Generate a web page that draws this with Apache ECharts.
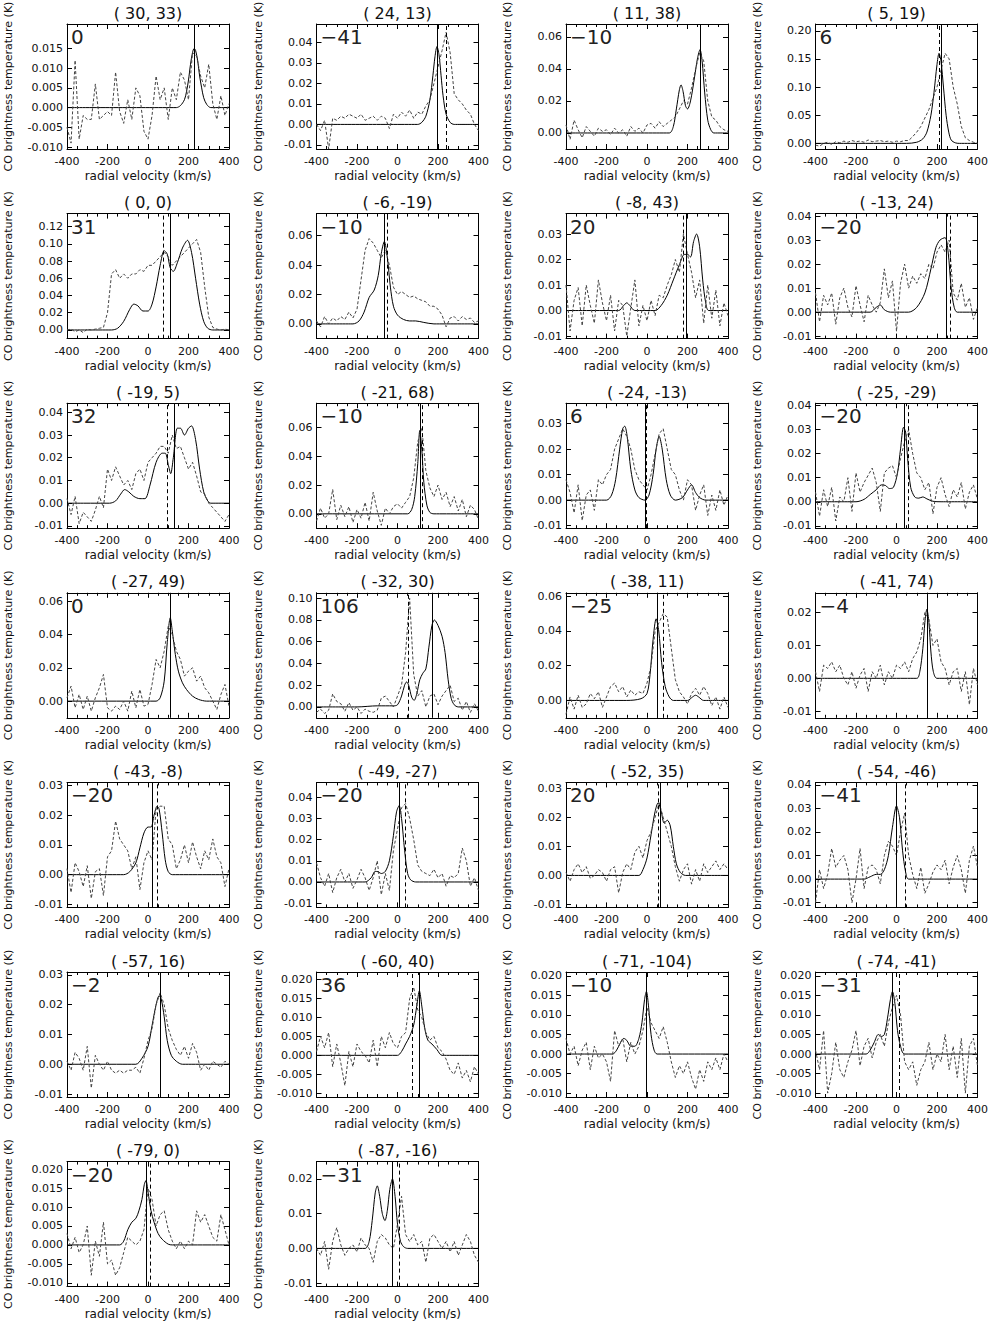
<!DOCTYPE html>
<html><head><meta charset="utf-8">
<script src="https://cdn.jsdelivr.net/npm/echarts@6/dist/echarts.min.js"></script>
<style>html,body{margin:0;padding:0;background:#fff}#c{width:998px;height:1325px}</style>
</head><body><div id="c"></div>
<script>
const titles = ['( 30, 33)','( 24, 13)','( 11, 38)','( 5, 19)','( 0, 0)','( -6, -19)','( -8, 43)','( -13, 24)','( -19, 5)','( -21, 68)','( -24, -13)','( -25, -29)','( -27, 49)','( -32, 30)','( -38, 11)','( -41, 74)','( -43, -8)','( -49, -27)','( -52, 35)','( -54, -46)','( -57, 16)','( -60, 40)','( -71, -104)','( -74, -41)','( -79, 0)','( -87, -16)'];
const numLabels = ['0','\u221241','\u221210','6','31','\u221210','20','\u221220','32','\u221210','6','\u221220','0','106','\u221225','\u22124','\u221220','\u221220','20','\u221241','\u22122','36','\u221210','\u221231','\u221220','\u221231'];
const yMin = [-0.0105,-0.012,-0.01,-0.01,-0.01,-0.01,-0.011,-0.011,-0.011,-0.01,-0.011,-0.011,-0.01,-0.01,-0.01,-0.012,-0.011,-0.012,-0.011,-0.012,-0.011,-0.011,-0.011,-0.011,-0.011,-0.011];
const yMax = [0.0212,0.049,0.068,0.212,0.135,0.075,0.038,0.041,0.044,0.077,0.038,0.041,0.065,0.105,0.062,0.026,0.031,0.047,0.032,0.041,0.031,0.022,0.021,0.021,0.022,0.025];
const T5 = [-0.010,-0.005,0,0.005,0.010,0.015];
const T5b = [-0.010,-0.005,0,0.005,0.010,0.015,0.020];
const yTicks = [
  T5,[-0.01,0,0.01,0.02,0.03,0.04],[0,0.02,0.04,0.06],[0,0.05,0.10,0.15,0.20],
  [0,0.02,0.04,0.06,0.08,0.10,0.12],[0,0.02,0.04,0.06],[-0.01,0,0.01,0.02,0.03],[-0.01,0,0.01,0.02,0.03,0.04],
  [-0.01,0,0.01,0.02,0.03,0.04],[0,0.02,0.04,0.06],[-0.01,0,0.01,0.02,0.03],[-0.01,0,0.01,0.02,0.03,0.04],
  [0,0.02,0.04,0.06],[0,0.02,0.04,0.06,0.08,0.10],[0,0.02,0.04,0.06],[-0.01,0,0.01,0.02],
  [-0.01,0,0.01,0.02,0.03],[-0.01,0,0.01,0.02,0.03,0.04],[-0.01,0,0.01,0.02,0.03],[-0.01,0,0.01,0.02,0.03,0.04],
  [-0.01,0,0.01,0.02,0.03],T5b,T5b,T5b,T5b,[-0.01,0,0.01,0.02]
];
const yDec = [3,2,2,2,2,2,2,2,2,2,2,2,2,2,2,2,2,2,2,2,2,3,3,3,3,2];
const xTicks = [-400,-200,0,200,400];
const vSolid = [228,195,262,220,108,-65,192,245,132,110,-8,40,110,170,50,150,20,10,65,0,60,105,-5,-20,-10,-25];
const vDash  = [null,240,262,212,75,-50,180,265,95,120,-5,60,null,55,80,150,45,40,55,45,60,75,-5,15,10,10];

const VEL = [-400,-380,-360,-340,-320,-300,-280,-260,-240,-220,-200,-180,-160,-140,-120,-100,-80,-60,-40,-20,0,20,40,60,80,100,120,140,160,180,200,220,240,260,280,300,320,340,360,380,400];

const obs1 = [-0.005,-0.009,0.012,-0.008,-0.002,-0.003,-0.003,0.006,-0.003,-0.002,-0.001,-0.002,0.009,-0.001,-0.004,0.002,-0.003,0.005,0.003,-0.006,-0.008,-0.002,0.008,0.002,0.005,-0.003,0.005,0.002,0.009,0.007,0.002,0.014,0.013,0.008,0.005,0.011,0.001,-0.003,0.003,-0.002,0.001];
const obs2 = [0.0,-0.003,0.002,-0.012,0.003,0.002,0.004,0.003,0.005,0.004,0.003,0.005,0.002,0.003,0.004,0.002,0.004,0.003,-0.002,0.005,0.003,0.006,0.004,0.007,0.003,0.006,0.005,0.009,0.012,0.02,0.028,0.036,0.045,0.035,0.015,0.012,0.01,0.007,0.005,0.0,-0.003];
const obs3 = [0.005,-0.004,0.008,0.002,-0.003,0.004,0.001,-0.002,0.003,0.001,0.002,-0.001,0.003,0.0,0.002,-0.002,0.004,0.001,0.003,0.0,0.005,0.006,0.003,0.007,0.004,0.006,0.008,0.01,0.015,0.02,0.018,0.028,0.04,0.05,0.045,0.02,0.01,0.008,0.004,0.002,0.001];
const obs4 = [-0.003,-0.005,0.0,0.002,-0.002,0.003,0.001,0.004,0.002,0.005,0.003,0.004,0.002,0.006,0.003,0.004,0.005,0.003,0.004,0.002,0.004,0.003,0.005,0.005,0.012,0.02,0.03,0.045,0.06,0.08,0.1,0.13,0.16,0.15,0.1,0.07,0.03,0.01,0.005,0.002,0.0];
const obs5 = [0.0,0.001,-0.002,0.0,-0.003,0.001,0.0,0.001,0.002,0.003,0.02,0.065,0.07,0.06,0.065,0.06,0.065,0.065,0.07,0.068,0.075,0.075,0.08,0.085,0.09,0.085,0.075,0.08,0.085,0.09,0.095,0.1,0.105,0.09,0.05,0.015,0.003,0.001,0.0,0.001,0.0];
const obs6 = [0.002,-0.002,0.005,0.0,0.004,0.002,0.005,0.003,0.008,0.004,0.01,0.03,0.05,0.058,0.055,0.05,0.045,0.05,0.04,0.025,0.02,0.022,0.02,0.018,0.019,0.017,0.016,0.015,0.012,0.012,0.01,0.006,-0.002,0.004,0.005,0.002,0.005,0.003,0.004,0.001,0.002];
const obs7 = [0.01,-0.008,0.004,0.009,-0.006,0.01,0.002,-0.005,0.012,0.003,-0.004,0.006,-0.008,0.004,0.002,-0.01,0.001,0.012,-0.006,0.002,-0.004,0.004,-0.002,0.006,0.005,0.01,0.014,0.02,0.015,0.03,0.022,0.015,0.005,0.012,-0.005,0.01,-0.003,0.008,-0.006,0.003,-0.002];
const obs8 = [0.008,-0.004,0.007,0.003,0.008,-0.005,0.006,0.01,0.002,-0.002,0.011,0.003,-0.004,0.007,0.003,0.0,0.004,0.018,0.006,0.013,-0.008,0.012,0.02,0.01,0.015,0.012,0.016,0.014,0.02,0.018,0.025,0.028,0.025,0.03,0.008,0.005,0.012,0.002,0.006,-0.003,0.002];
const obs9 = [0.002,-0.005,0.003,-0.009,-0.004,-0.006,-0.008,-0.003,0.003,-0.002,0.015,0.01,0.016,0.012,0.008,0.01,0.006,0.013,0.015,0.01,0.018,0.02,0.022,0.025,0.025,0.022,0.03,0.024,0.025,0.02,0.015,0.018,0.012,0.005,0.004,0.0,-0.002,-0.004,-0.006,-0.008,-0.005];
const obs10 = [-0.005,0.004,-0.003,0.0,0.017,-0.004,0.006,-0.002,0.005,-0.006,0.003,-0.003,0.008,-0.005,0.015,0.002,-0.008,0.004,0.0,0.005,0.007,0.004,0.008,0.012,0.025,0.05,0.06,0.03,0.018,0.012,0.02,0.01,0.015,0.005,0.012,0.002,0.01,-0.002,0.006,0.003,-0.004];
const obs11 = [0.008,0.003,-0.005,0.006,-0.008,0.002,0.004,-0.004,0.008,0.006,0.01,0.012,0.02,0.024,0.028,0.025,0.02,0.012,0.008,0.006,0.004,0.01,0.018,0.026,0.028,0.02,0.012,0.01,0.004,0.0,0.008,0.006,-0.004,0.002,0.006,-0.006,0.002,-0.004,0.004,-0.002,0.002];
const obs12 = [0.004,-0.006,0.005,-0.002,0.006,-0.008,0.002,0.0,0.01,-0.004,0.012,0.004,0.008,0.011,0.014,0.008,-0.004,0.012,0.014,0.015,0.01,0.018,0.025,0.03,0.02,0.012,0.01,0.005,0.008,-0.005,0.006,0.01,0.003,-0.002,0.005,0.002,0.008,-0.003,0.004,0.007,0.001];
const obs13 = [0.002,0.009,-0.004,0.004,-0.005,0.003,-0.006,0.002,0.008,0.016,-0.004,-0.006,-0.003,-0.005,0.0,-0.006,0.006,-0.004,0.007,-0.003,-0.002,0.01,0.025,0.02,0.03,0.045,0.04,0.03,0.025,0.015,0.018,0.02,0.012,0.015,0.008,0.005,0.0,-0.005,0.004,0.01,-0.003];
const obs14 = [-0.005,-0.002,-0.006,-0.003,0.012,0.005,0.003,-0.004,0.004,-0.003,0.0,-0.006,-0.002,-0.004,-0.005,-0.003,0.008,0.01,0.005,0.0,0.01,0.02,0.05,0.1,0.03,0.01,0.015,0.0,0.01,0.012,0.002,0.01,0.015,0.02,0.005,0.008,-0.003,0.005,-0.005,0.003,-0.004];
const obs15 = [-0.008,0.002,-0.005,0.003,-0.004,-0.002,0.004,0.001,0.005,-0.004,0.002,0.008,0.01,0.005,0.008,0.002,0.006,0.003,0.005,0.004,0.01,0.02,0.04,0.045,0.05,0.048,0.03,0.012,0.005,0.002,-0.002,0.004,0.007,0.003,0.008,0.004,-0.003,0.002,-0.005,0.002,-0.004];
const obs16 = [0.002,-0.004,0.004,0.003,0.005,0.002,0.004,0.0,-0.002,0.002,-0.003,0.001,0.003,-0.004,0.002,0.0,0.004,-0.002,0.002,0.0,0.004,0.003,0.005,0.002,0.006,0.008,0.012,0.02,0.018,0.01,0.012,0.005,0.003,-0.002,0.002,0.003,-0.004,0.002,-0.008,0.003,-0.002];
const obs17 = [0.002,-0.006,0.004,0.001,-0.004,0.003,-0.008,0.001,0.002,-0.007,0.006,0.008,0.018,0.012,0.01,0.008,0.002,0.006,-0.005,0.004,0.008,0.005,0.022,0.023,0.023,0.012,0.01,0.002,0.005,0.01,0.004,0.011,0.006,0.002,0.008,0.005,0.012,0.006,0.004,-0.004,0.002];
const obs18 = [0.009,0.002,-0.002,0.004,-0.005,0.002,0.006,0.0,0.004,-0.003,0.001,0.006,0.002,-0.004,0.002,0.01,-0.006,0.004,-0.004,0.015,0.025,0.035,0.037,0.03,0.02,0.008,0.005,0.004,0.003,0.006,0.002,0.004,-0.002,0.003,0.002,0.004,0.016,0.01,-0.002,0.002,-0.004];
const obs19 = [0.001,-0.002,0.002,0.004,0.001,0.003,-0.001,0.0,0.002,0.001,-0.002,0.002,0.003,-0.006,0.001,0.004,0.002,0.008,0.01,0.006,0.012,0.015,0.02,0.025,0.02,0.015,0.01,0.003,-0.002,0.002,0.004,-0.003,0.002,-0.002,0.004,0.001,0.003,0.005,0.002,0.004,0.002];
const obs20 = [-0.01,0.004,-0.004,0.002,0.013,0.005,0.008,0.01,0.004,-0.01,0.0,0.013,-0.004,0.005,0.006,0.004,-0.002,0.01,0.016,0.014,0.01,0.02,0.028,0.01,0.002,-0.004,0.005,-0.006,-0.002,0.003,0.006,0.004,0.008,-0.002,0.005,0.01,0.004,-0.006,0.008,0.014,0.005];
const obs21 = [0.001,-0.002,0.004,0.002,-0.002,0.006,-0.008,0.003,0.0,-0.002,0.001,-0.002,-0.003,-0.002,-0.003,-0.002,-0.002,-0.001,-0.003,0.002,0.008,0.012,0.02,0.024,0.02,0.012,0.008,0.005,0.003,0.006,0.002,0.007,0.004,-0.002,0.0,-0.002,0.001,0.0,-0.001,0.001,0.0];
const obs22 = [0.001,0.005,0.002,0.006,-0.003,0.003,-0.002,-0.008,0.001,-0.003,0.003,0.001,0.0,-0.002,0.004,-0.003,0.005,0.002,0.006,0.003,0.002,0.005,0.006,0.015,0.018,0.012,0.01,0.006,0.004,0.005,0.002,0.001,-0.001,-0.004,-0.005,-0.002,-0.006,-0.004,-0.007,-0.003,-0.005];
const obs23 = [0.004,0.0,0.002,-0.003,0.001,0.003,-0.004,0.002,-0.001,0.0,-0.002,-0.007,0.006,0.002,0.004,-0.002,0.003,0.0,0.002,0.006,0.012,0.008,0.006,0.004,0.007,0.003,-0.002,-0.006,-0.003,-0.005,-0.002,-0.006,-0.009,-0.004,-0.007,-0.002,-0.004,-0.001,-0.004,0.0,-0.002];
const obs24 = [0.001,-0.004,0.006,-0.01,-0.005,0.003,-0.004,-0.006,-0.002,0.001,0.006,-0.003,0.002,0.004,-0.001,0.003,0.005,0.002,0.008,0.012,0.015,0.01,-0.002,-0.004,-0.002,-0.008,-0.004,-0.002,0.003,-0.004,0.0,-0.002,0.005,-0.004,0.002,-0.006,0.004,-0.01,0.002,0.004,-0.003];
const obs25 = [0.003,-0.001,0.002,-0.002,0.0,0.005,-0.008,0.001,-0.003,0.006,-0.005,-0.004,-0.008,-0.006,-0.002,0.002,0.001,0.0,0.001,0.004,0.015,0.012,0.005,0.008,0.009,0.004,0.001,-0.001,0.001,-0.001,0.001,0.0,0.009,0.006,0.008,0.005,0.002,0.001,0.008,0.004,0.0];
const obs26 = [0.0,-0.002,0.002,-0.006,0.002,0.006,0.001,-0.002,0.0,0.001,-0.001,0.003,0.001,0.0,-0.004,0.002,0.004,0.003,0.001,0.0,0.007,0.015,0.004,0.002,0.004,0.001,0.002,-0.004,0.003,0.004,0.002,0.0,0.002,-0.001,0.002,-0.002,0.001,0.004,0.002,-0.002,-0.004];

const model1 = [[-400,0],[140,0],[160,0.0005],[180,0.002],[190,0.004],[200,0.007],[210,0.011],[220,0.014],[228,0.015],[235,0.0145],[245,0.012],[255,0.008],[265,0.005],[275,0.0025],[290,0.0008],[310,0],[400,0]];
const model2 = [[-400,0],[100,0],[120,0.001],[140,0.004],[160,0.012],[175,0.024],[185,0.033],[195,0.038],[205,0.034],[215,0.024],[225,0.014],[240,0.005],[260,0.001],[280,0],[400,0]];
const model3 = [[-400,0],[110,0],[130,0.004],[145,0.015],[160,0.027],[168,0.03],[178,0.026],[190,0.017],[200,0.015],[215,0.02],[235,0.035],[250,0.047],[262,0.052],[272,0.045],[285,0.025],[300,0.008],[315,0.002],[330,0],[400,0]];
const model4 = [[-400,0],[50,0],[100,0.002],[130,0.008],[150,0.02],[170,0.05],[185,0.09],[200,0.14],[210,0.16],[220,0.145],[232,0.1],[245,0.05],[258,0.02],[270,0.006],[290,0.001],[310,0],[400,0]];
const model5 = [[-400,0],[-180,0],[-150,0.002],[-120,0.01],[-90,0.024],[-70,0.03],[-50,0.028],[-25,0.022],[0,0.022],[20,0.03],[40,0.05],[60,0.075],[80,0.092],[95,0.088],[110,0.072],[125,0.068],[145,0.078],[170,0.095],[195,0.104],[215,0.09],[235,0.06],[255,0.03],[275,0.01],[295,0.002],[320,0],[400,0]];
const model6 = [[-400,0],[-220,0],[-190,0.002],[-165,0.008],[-140,0.018],[-115,0.023],[-95,0.033],[-80,0.048],[-65,0.056],[-50,0.045],[-35,0.025],[-20,0.012],[0,0.006],[30,0.003],[60,0.002],[90,0.002],[130,0.001],[180,0],[400,0]];
const model7 = [[-400,0],[-140,0],[-115,0.002],[-100,0.003],[-85,0.002],[-60,0],[40,0],[70,0.002],[100,0.006],[130,0.012],[160,0.018],[185,0.022],[200,0.022],[215,0.021],[230,0.027],[245,0.030],[260,0.025],[275,0.012],[290,0.003],[305,0],[400,0]];
const model8 = [[-400,0],[-130,0],[-100,0.002],[-80,0.003],[-60,0.001],[-30,0],[60,0],[100,0.002],[140,0.008],[170,0.018],[195,0.027],[215,0.03],[240,0.031],[255,0.025],[270,0.01],[285,0.002],[300,0],[400,0]];
const model9 = [[-400,0],[-190,0],[-160,0.001],[-135,0.004],[-115,0.006],[-95,0.005],[-70,0.003],[-40,0.002],[-15,0.002],[10,0.008],[40,0.018],[70,0.022],[85,0.022],[100,0.017],[112,0.013],[125,0.02],[145,0.033],[160,0.033],[180,0.030],[200,0.033],[215,0.034],[235,0.028],[255,0.015],[275,0.005],[295,0.001],[310,0],[400,0]];
const model10 = [[-400,0],[50,0],[70,0.003],[85,0.012],[100,0.035],[110,0.058],[120,0.045],[130,0.022],[145,0.006],[160,0.001],[180,0],[400,0]];
const model11 = [[-400,0],[-200,0],[-175,0.002],[-155,0.008],[-135,0.02],[-120,0.028],[-110,0.029],[-98,0.025],[-80,0.012],[-60,0.004],[-40,0.001],[-10,0],[10,0.002],[30,0.01],[45,0.02],[60,0.025],[75,0.02],[95,0.008],[115,0.002],[140,0],[175,0.001],[200,0.004],[220,0.006],[240,0.003],[260,0.001],[290,0],[400,0]];
const model12 = [[-400,0],[-200,0],[-160,0.001],[-130,0.003],[-100,0.005],[-75,0.007],[-55,0.0068],[-35,0.0055],[-15,0.006],[5,0.012],[20,0.022],[35,0.031],[45,0.029],[55,0.018],[70,0.006],[90,0.002],[110,0.0015],[130,0.002],[150,0.0012],[180,0.0002],[220,0],[400,0]];
const model13 = [[-400,0],[40,0],[60,0.002],[80,0.012],[95,0.035],[110,0.05],[120,0.042],[135,0.028],[150,0.018],[170,0.011],[190,0.007],[220,0.003],[250,0.001],[290,0],[400,0]];
const model14 = [[-400,0],[-200,0],[-100,0.001],[-20,0.001],[0,0.002],[20,0.01],[35,0.02],[45,0.023],[55,0.02],[70,0.009],[82,0.006],[95,0.012],[110,0.025],[125,0.031],[140,0.035],[155,0.055],[170,0.075],[182,0.08],[200,0.075],[220,0.065],[235,0.05],[250,0.025],[265,0.008],[280,0.002],[300,0],[400,0]];
const model15 = [[-400,0],[-100,0],[-30,0.001],[0,0.004],[15,0.015],[30,0.035],[45,0.047],[58,0.04],[72,0.022],[90,0.008],[110,0.002],[130,0],[200,0],[225,0.002],[240,0.003],[255,0.002],[280,0],[400,0]];
const model16 = [[-400,0],[100,0],[115,0.002],[130,0.009],[140,0.017],[150,0.021],[160,0.017],[170,0.008],[182,0.002],[200,0],[400,0]];
const model17 = [[-400,0],[-120,0],[-90,0.001],[-60,0.004],[-40,0.009],[-20,0.014],[0,0.016],[15,0.016],[30,0.02],[45,0.023],[55,0.022],[70,0.014],[85,0.005],[100,0.001],[120,0],[400,0]];
const model18 = [[-400,0],[-160,0],[-130,0.002],[-110,0.005],[-95,0.0048],[-80,0.004],[-60,0.005],[-40,0.01],[-20,0.022],[-5,0.033],[8,0.036],[20,0.03],[35,0.015],[50,0.004],[65,0.001],[90,0],[400,0]];
const model19 = [[-400,0],[-40,0],[-20,0.002],[0,0.006],[20,0.014],[40,0.022],[55,0.025],[70,0.022],[85,0.018],[100,0.019],[115,0.017],[130,0.01],[145,0.004],[165,0.001],[190,0],[400,0]];
const model20 = [[-400,0],[-160,0],[-130,0.001],[-100,0.002],[-80,0.002],[-60,0.004],[-40,0.01],[-20,0.022],[0,0.031],[15,0.026],[30,0.012],[45,0.003],[60,0],[400,0]];
const model21 = [[-400,0],[-60,0],[-30,0.002],[0,0.006],[20,0.013],[40,0.02],[55,0.023],[65,0.022],[80,0.016],[95,0.008],[115,0.003],[140,0.001],[170,0],[400,0]];
const model22 = [[-400,0],[0,0],[20,0.001],[40,0.003],[60,0.005],[80,0.008],[95,0.013],[108,0.017],[120,0.013],[135,0.007],[150,0.004],[170,0.003],[195,0.0015],[220,0],[400,0]];
const model23 = [[-400,0],[-170,0],[-150,0.001],[-130,0.003],[-115,0.004],[-100,0.0035],[-80,0.002],[-60,0.002],[-40,0.004],[-25,0.008],[-12,0.014],[-3,0.016],[8,0.012],[20,0.005],[35,0.001],[50,0],[400,0]];
const model24 = [[-400,0],[-150,0],[-130,0.001],[-110,0.003],[-90,0.005],[-75,0.0045],[-60,0.005],[-45,0.009],[-30,0.014],[-20,0.016],[-8,0.013],[5,0.006],[20,0.002],[40,0],[400,0]];
const model25 = [[-400,0],[-140,0],[-120,0.001],[-100,0.004],[-80,0.006],[-60,0.007],[-45,0.009],[-30,0.012],[-18,0.016],[-10,0.017],[0,0.014],[15,0.009],[30,0.006],[50,0.003],[70,0.0015],[100,0.0002],[120,0],[400,0]];
const model26 = [[-400,0],[-160,0],[-140,0.002],[-125,0.008],[-110,0.016],[-100,0.018],[-88,0.015],[-75,0.01],[-62,0.008],[-50,0.011],[-38,0.017],[-25,0.02],[-12,0.015],[0,0.007],[15,0.002],[30,0.0005],[50,0],[400,0]];

const obs = [obs1,obs2,obs3,obs4,obs5,obs6,obs7,obs8,obs9,obs10,obs11,obs12,obs13,obs14,obs15,obs16,obs17,obs18,obs19,obs20,obs21,obs22,obs23,obs24,obs25,obs26];
const models = [model1,model2,model3,model4,model5,model6,model7,model8,model9,model10,model11,model12,model13,model14,model15,model16,model17,model18,model19,model20,model21,model22,model23,model24,model25,model26];

const FONT = 'DejaVu Sans';
const BOX_L0 = 67, COL_DX = 249.5, BOX_W = 162;
const BOX_T0 = 24, ROW_DY = 189.6, BOX_H = 125;

const grid = [], xAxis = [], yAxis = [], series = [], graphic = [];
const tickStyle = {color:'#000', width:1};
titles.forEach((t, i) => {
  const r = Math.floor(i / 4), c = i % 4;
  const L = BOX_L0 + COL_DX * c, T = BOX_T0 + ROW_DY * r;
  grid.push({left: L, top: T, width: BOX_W, height: BOX_H, show: false, containLabel: false, outerBoundsMode: 'none'});
  const xBase = {gridIndex: i, type: 'value', min: -400, max: 400, interval: 200,
    axisLine: {show: true, onZero: false, lineStyle: tickStyle},
    axisTick: {show: true, inside: true, length: 5, lineStyle: tickStyle},
    minorTick: {show: true, splitNumber: 4, length: 3, lineStyle: tickStyle},
    splitLine: {show: false}, minorSplitLine: {show: false}};
  xAxis.push(Object.assign({}, xBase, {position: 'bottom',
    axisLabel: {color: '#111', fontFamily: FONT, fontSize: 11, margin: 7},
    name: 'radial velocity (km/s)', nameLocation: 'middle', nameGap: 21,
    nameTextStyle: {color: '#111', fontFamily: FONT, fontSize: 12}}));
  xAxis.push(Object.assign({}, xBase, {position: 'top', axisLabel: {show: false}}));
  const dec = yDec[i];
  const yBase = {gridIndex: i, type: 'value', min: yMin[i], max: yMax[i],
    axisLine: {show: true, onZero: false, lineStyle: tickStyle},
    axisTick: {show: true, inside: true, length: 5, lineStyle: tickStyle, customValues: yTicks[i]},
    splitLine: {show: false}};
  yAxis.push(Object.assign({}, yBase, {position: 'left',
    axisLabel: {color: '#111', fontFamily: FONT, fontSize: 11, margin: 4, customValues: yTicks[i],
      formatter: v => (Math.abs(v) < 1e-9 ? 0 : v).toFixed(dec)},
    name: 'CO brightness temperature (K)', nameLocation: 'middle', nameGap: 53, nameRotate: 90,
    nameTextStyle: {color: '#111', fontFamily: FONT, fontSize: 11}}));
  yAxis.push(Object.assign({}, yBase, {position: 'right', axisLabel: {show: false}}));

  const ml = [{xAxis: vSolid[i], lineStyle: {type: 'solid', color: '#000', width: 1}}];
  if (vDash[i] !== null) ml.push({xAxis: vDash[i], lineStyle: {type: [4, 3], color: '#000', width: 1}});
  series.push({type: 'line', xAxisIndex: 2 * i, yAxisIndex: 2 * i, data: models[i], smooth: 0.3,
    showSymbol: false, symbol: 'none', clip: true, lineStyle: {color: '#000', width: 1},
    markLine: {silent: true, symbol: ['none', 'none'], label: {show: false}, animation: false, data: ml}});
  series.push({type: 'line', xAxisIndex: 2 * i, yAxisIndex: 2 * i,
    data: VEL.map((v, k) => [v, obs[i][k]]), showSymbol: false, symbol: 'none', clip: true,
    lineStyle: {color: '#444', width: 1, type: [3, 2]}});

  graphic.push({type: 'text', x: L + BOX_W / 2, y: T - 11,
    style: {text: t, fontFamily: FONT, fontSize: 16, fill: '#111', textAlign: 'center', textVerticalAlign: 'middle'}});
  graphic.push({type: 'text', x: L + 4, y: T + 3,
    style: {text: numLabels[i], fontFamily: FONT, fontSize: 20, fill: '#222', textAlign: 'left', textVerticalAlign: 'top'}});
});

const chart = echarts.init(document.getElementById('c'), null, {renderer: 'svg', width: 998, height: 1325});
chart.setOption({backgroundColor: '#fff', animation: false, grid, xAxis, yAxis, series, graphic});
</script></body></html>
